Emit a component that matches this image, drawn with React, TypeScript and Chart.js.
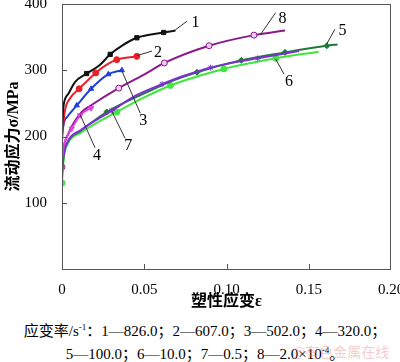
import React, { useEffect, useRef } from 'react';
import { Chart, registerables } from 'chart.js';
Chart.register(...registerables);

// ---- data ----
const xTickValues = [0, 0.05, 0.1, 0.15, 0.2];
const yTickValues = [0, 100, 200, 300, 400];

const c1x = [0, 0.0008, 0.0038, 0.0079, 0.015, 0.023, 0.0293, 0.037, 0.0455, 0.054, 0.0618, 0.069];
const c1y = [209, 244, 264, 282, 295, 308, 324, 338, 349, 354, 357, 360];
const c1m = [4, 6, 8, 10];

const c2x = [0, 0.0018, 0.005, 0.0104, 0.0205, 0.027, 0.0333, 0.0455];
const c2y = [200, 239, 258, 272, 296, 308, 316, 321];
const c2m = [3, 4, 6, 7];

const c3x = [0, 0.0002, 0.0029, 0.009, 0.0177, 0.0282, 0.0364];
const c3y = [185, 204, 229, 247, 272, 294, 300];
const c3m = [3, 4, 5, 6];

const c4x = [0, 0.001, 0.003, 0.0059, 0.011, 0.0177, 0.019];
const c4y = [165, 184, 200, 212, 232, 243, 244];
const c4m = [3, 4, 5];

const c5x = [0, 0.001, 0.0038, 0.011, 0.0272, 0.05, 0.066, 0.0821, 0.109, 0.1356, 0.161, 0.1675];
const c5y = [140, 172, 193, 208, 237, 265, 283, 297, 315, 327, 337, 339];
const c5m = [4, 7, 8, 9, 10];

const c6x = [0, 0.001, 0.0038, 0.011, 0.0333, 0.05, 0.0659, 0.0841, 0.0984, 0.115, 0.13, 0.156];
const c6y = [130, 165, 190, 205, 237, 259, 277, 292, 302, 311, 318, 328];
const c6m = [0, 4, 6, 8, 10];

const c7x = [0, 0.001, 0.0038, 0.011, 0.0303, 0.045, 0.0608, 0.0746, 0.0902, 0.105, 0.119, 0.144];
const c7y = [150, 172, 194, 209, 239, 262, 279, 292, 304, 312, 318, 329];
const c7m = [4, 6, 8, 10];

const c8x = [0, 0.001, 0.0038, 0.007, 0.012, 0.017, 0.0345, 0.0496, 0.0622, 0.0894, 0.1167, 0.1356];
const c8y = [154, 182, 204, 220, 237, 246, 273, 293, 311, 337, 353, 360];
const c8m = [0, 6, 8, 9, 10];

// curve labels: text, leader start (x,y), leader end (x,y), text position (x,y) in data units
const labelTexts = ['1', '2', '3', '4', '7', '8', '5', '6'];
const labelFrom = [[0.0689, 361], [0.0455, 322], [0.0364, 299], [0.011, 233], [0.0303, 238], [0.1207, 354], [0.1608, 339], [0.1299, 317]];
const labelTo = [[0.076, 374], [0.0547, 329], [0.0476, 235], [0.0201, 183], [0.0384, 197], [0.1299, 387], [0.1659, 362], [0.135, 294]];
const labelAt = [[0.0811, 371], [0.0584, 327], [0.0494, 224], [0.0213, 171], [0.0402, 186], [0.134, 378], [0.1705, 360], [0.138, 282]];

const SERIF = '"Liberation Serif", "Times New Roman", "Noto Sans CJK SC", serif';

function mk(xs: number[], ys: number[], marks: number[], color: string, style: string, fill?: string, rot = 0) {
  return {
    data: xs.map((x, i) => ({ x, y: ys[i] })),
    borderColor: color,
    backgroundColor: fill || color,
    borderWidth: 2,
    pointStyle: style,
    pointRotation: rot,
    pointBorderWidth: 1,
    pointBorderColor: color,
    pointBackgroundColor: fill || color,
    pointRadius: xs.map((_, i) => (marks.includes(i) ? 3 : 0)),
    pointHoverRadius: 0,
    tension: 0.4,
    cubicInterpolationMode: 'monotone',
    fill: false,
  };
}

const framePlugin = {
  id: 'frame',
  afterDraw(chart: any) {
    const { ctx, chartArea: a, scales } = chart;
    const xs = scales.x, ys = scales.y;
    ctx.save();
    ctx.strokeStyle = '#555';
    ctx.lineWidth = 1;
    ctx.strokeRect(a.left + 0.5, a.top + 0.5, a.right - a.left - 1, a.bottom - a.top);
    ctx.beginPath();
    xTickValues.slice(1, -1).forEach((v) => {
      const px = Math.round(xs.getPixelForValue(v)) + 0.5;
      ctx.moveTo(px, a.bottom);
      ctx.lineTo(px, a.bottom - 5);
    });
    yTickValues.slice(1, -1).forEach((v) => {
      const py = Math.round(ys.getPixelForValue(v)) + 0.5;
      ctx.moveTo(a.left, py);
      ctx.lineTo(a.left + 5, py);
    });
    ctx.stroke();
    ctx.strokeStyle = '#333';
    ctx.fillStyle = '#000';
    ctx.font = '16px ' + SERIF;
    ctx.textAlign = 'center';
    ctx.textBaseline = 'middle';
    labelTexts.forEach((t, i) => {
      ctx.beginPath();
      ctx.moveTo(xs.getPixelForValue(labelFrom[i][0]), ys.getPixelForValue(labelFrom[i][1]));
      ctx.lineTo(xs.getPixelForValue(labelTo[i][0]), ys.getPixelForValue(labelTo[i][1]));
      ctx.stroke();
      ctx.fillText(t, xs.getPixelForValue(labelAt[i][0]), ys.getPixelForValue(labelAt[i][1]));
    });
    ctx.restore();
  },
};

export default function App() {
  const ref = useRef<HTMLCanvasElement>(null);
  useEffect(() => {
    const chart = new Chart(ref.current as HTMLCanvasElement, {
      type: 'line',
      data: {
        datasets: [
          mk(c1x, c1y, c1m, '#111111', 'rect'),
          mk(c2x, c2y, c2m, '#e8202a', 'circle'),
          mk(c3x, c3y, c3m, '#1f3fd8', 'triangle'),
          mk(c4x, c4y, c4m, '#e040e0', 'triangle', undefined, 180),
          mk(c7x, c7y, c7m, '#7f2fd6', 'star'),
          mk(c5x, c5y, c5m, '#1f7a3a', 'rectRot'),
          mk(c6x, c6y, c6m, '#3ee63e', 'circle'),
          mk(c8x, c8y, c8m, '#8a1a8a', 'circle', '#f2c8f0'),
        ] as any,
      },
      options: {
        animation: false,
        responsive: false,
        events: [],
        layout: { padding: { top: 4, right: 9, left: 0, bottom: 0 } },
        plugins: { legend: { display: false }, tooltip: { enabled: false } },
        scales: {
          x: {
            type: 'linear',
            min: 0,
            max: 0.2,
            grid: { display: false },
            border: { display: false },
            afterBuildTicks: (s: any) => { s.ticks = xTickValues.map((v) => ({ value: v })); },
            ticks: {
              color: '#000',
              padding: 4,
              maxRotation: 0,
              font: { family: SERIF, size: 15 },
              callback: (v: any) => (v === 0 ? '0' : Number(v).toFixed(2)),
            },
            title: {
              display: true,
              text: '塑性应变ε',
              color: '#000',
              padding: { top: 0, bottom: 1 },
              font: { family: SERIF, size: 16, weight: 'bold' },
            },
            afterFit: (s: any) => { s.height = 43; s.paddingLeft = 0; s.paddingRight = 0; },
          },
          y: {
            type: 'linear',
            min: 0,
            max: 400,
            grid: { display: false },
            border: { display: false },
            afterBuildTicks: (s: any) => { s.ticks = yTickValues.map((v) => ({ value: v })); },
            ticks: {
              color: '#000',
              padding: 7,
              font: { family: SERIF, size: 15 },
              callback: (v: any) => (v === 0 ? '' : String(v)),
            },
            title: {
              display: true,
              text: '流动应力σ/MPa',
              color: '#000',
              padding: { top: 4, bottom: 0 },
              font: { family: SERIF, size: 16, weight: 'bold' },
            },
            afterFit: (s: any) => { s.width = 62; s.paddingTop = 0; s.paddingBottom = 0; },
          },
        },
      } as any,
      plugins: [framePlugin],
    });
    return () => chart.destroy();
  }, []);

  const footStyle: React.CSSProperties = {
    position: 'absolute',
    left: 0,
    width: 410,
    textAlign: 'center',
    fontFamily: SERIF,
    fontSize: 15,
    lineHeight: '18px',
    color: '#000',
    whiteSpace: 'nowrap',
  };

  return (
    <div style={{ position: 'absolute', left: 0, top: 0, width: 400, height: 362, background: '#fff', overflow: 'hidden' }}>
      <canvas ref={ref} width={400} height={312} style={{ display: 'block' }} />
      <div style={{ ...footStyle, top: 318 }}>
        应变率/s<sup style={{ fontSize: 9 }}>-1</sup>：1—826.0；2—607.0；3—502.0；4—320.0；
      </div>
      <div style={{ ...footStyle, top: 341 }}>
        5—100.0；6—10.0；7—0.5；8—2.0×10<sup style={{ fontSize: 9 }}>-4</sup>。
      </div>
      <div style={{ position: 'absolute', left: 292, top: 341, fontSize: 14, color: 'rgba(230,140,140,0.45)', fontFamily: '"Noto Sans CJK SC", sans-serif', whiteSpace: 'nowrap' }}>
        @有色金属在线
      </div>
    </div>
  );
}
